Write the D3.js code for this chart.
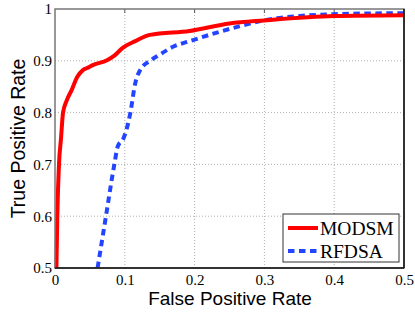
<!DOCTYPE html>
<html>
<head>
<meta charset="utf-8">
<script src="https://cdn.jsdelivr.net/npm/d3@7"></script>
<style>
  body { margin: 0; background: #fff; }
  svg { display: block; }
</style>
</head>
<body>
<svg width="415" height="313"></svg>
<script>
// ROC points: [false positive rate, true positive rate]
const modsm = [
  [0.002, 0.5], [0.0033, 0.6], [0.0057, 0.7], [0.0086, 0.75], [0.0115, 0.8],
  [0.017, 0.824], [0.024, 0.844], [0.032, 0.869], [0.04, 0.882], [0.046, 0.886],
  [0.055, 0.892], [0.0745, 0.901], [0.085, 0.91], [0.097, 0.925], [0.115, 0.938],
  [0.136, 0.95], [0.193, 0.9575], [0.25, 0.972], [0.3, 0.978], [0.4, 0.9865], [0.5, 0.988]
]
const rfdsa = [
  [0.061, 0.5], [0.073, 0.6], [0.085, 0.7], [0.09, 0.735], [0.098, 0.75],
  [0.103, 0.77], [0.108, 0.8], [0.115, 0.857], [0.122, 0.882], [0.136, 0.9],
  [0.15, 0.912], [0.169, 0.927], [0.193, 0.938], [0.236, 0.956], [0.265, 0.967],
  [0.303, 0.979], [0.351, 0.9865], [0.398, 0.99], [0.5, 0.992]
]
const xTicks = [0, 0.1, 0.2, 0.3, 0.4, 0.5]
const yTicks = [0.5, 0.6, 0.7, 0.8, 0.9, 1]
const seriesNames = ['MODSM', 'RFDSA']

const svg = d3.select('svg')
const pLeft = 55, pRight = 404, pTop = 9, pBottom = 268

const x = d3.scaleLinear().domain([0, 0.5]).range([pLeft, pRight])
const y = d3.scaleLinear().domain([0.5, 1]).range([pBottom, pTop])

// grid
const grid = svg.append('g')
grid.selectAll('.gx')
  .data(xTicks.slice(1, -1))
  .enter()
  .append('line')
  .attr('x1', d => x(d)).attr('x2', d => x(d))
  .attr('y1', pTop).attr('y2', pBottom)
grid.selectAll('.gy')
  .data(yTicks.slice(1, -1))
  .enter()
  .append('line')
  .attr('x1', pLeft).attr('x2', pRight)
  .attr('y1', d => y(d)).attr('y2', d => y(d))
grid.selectAll('line')
  .attr('stroke', '#b0b0b0')
  .attr('stroke-width', 1)
  .attr('stroke-dasharray', '1,2')

// axes
const tickFont = (sel) => sel.selectAll('text')
  .attr('font-family', '"Liberation Serif", "DejaVu Serif", serif')
  .attr('font-size', 15)
  .attr('fill', '#000')

const xAxis = svg.append('g')
  .attr('transform', `translate(0,${pBottom})`)
  .call(d3.axisBottom(x).tickValues(xTicks).tickFormat(d3.format('')).tickSize(0).tickPadding(6))
xAxis.select('.domain').remove()
tickFont(xAxis)

const yAxis = svg.append('g')
  .attr('transform', `translate(${pLeft},0)`)
  .call(d3.axisLeft(y).tickValues(yTicks).tickFormat(d3.format('')).tickSize(0).tickPadding(3))
yAxis.select('.domain').remove()
tickFont(yAxis)

// small inner ticks like the original
svg.append('g').selectAll('line')
  .data(xTicks.slice(1, -1))
  .enter()
  .append('line')
  .attr('x1', d => x(d)).attr('x2', d => x(d))
  .attr('y1', pTop).attr('y2', pTop + 4)
  .attr('stroke', '#555')

// curves
const line = d3.line()
  .curve(d3.curveMonotoneX)
  .x(d => x(d[0]))
  .y(d => y(d[1]))

const plot = svg.append('g')
plot.append('path')
  .datum(rfdsa)
  .attr('d', line)
  .attr('fill', 'none')
  .attr('stroke', '#2445ff')
  .attr('stroke-width', 4)
  .attr('stroke-dasharray', '6.5,4.5')
plot.append('path')
  .datum(modsm)
  .attr('d', line)
  .attr('fill', 'none')
  .attr('stroke', '#ff0000')
  .attr('stroke-width', 4)
  .attr('stroke-linejoin', 'round')

// frame
svg.append('rect')
  .attr('x', pLeft).attr('y', pTop)
  .attr('width', pRight - pLeft).attr('height', pBottom - pTop)
  .attr('fill', 'none')
  .attr('stroke', '#777')
  .attr('stroke-width', 1.5)
svg.append('line')
  .attr('x1', pLeft).attr('x2', pRight).attr('y1', pBottom).attr('y2', pBottom)
  .attr('stroke', '#111').attr('stroke-width', 1.5)
svg.append('line')
  .attr('x1', pRight).attr('x2', pRight).attr('y1', pTop).attr('y2', pBottom)
  .attr('stroke', '#111').attr('stroke-width', 1.5)

// axis labels
svg.append('text')
  .attr('x', (pLeft + pRight) / 2 + 0.5)
  .attr('y', 305)
  .attr('text-anchor', 'middle')
  .attr('font-family', '"Liberation Sans", Arial, sans-serif')
  .attr('font-size', 19)
  .text('False Positive Rate')
svg.append('text')
  .attr('transform', `translate(25,${(pTop + pBottom) / 2}) rotate(-90)`)
  .attr('text-anchor', 'middle')
  .attr('font-family', '"Liberation Sans", Arial, sans-serif')
  .attr('font-size', 19.5)
  .text('True Positive Rate')

// legend
const legend = svg.append('g').attr('transform', 'translate(283,214)')
legend.append('rect')
  .attr('width', 116).attr('height', 48)
  .attr('fill', '#fff')
  .attr('stroke', '#333')
  .attr('stroke-width', 1)
const styles = [
  { color: '#ff0000', dash: null },
  { color: '#2445ff', dash: '6.5,4.5' }
]
const items = legend.selectAll('.item')
  .data(seriesNames)
  .enter()
  .append('g')
  .attr('transform', (d, i) => `translate(0,${14 + i * 23})`)
items.append('line')
  .attr('x1', 5).attr('x2', 35)
  .attr('stroke', (d, i) => styles[i].color)
  .attr('stroke-width', 4)
  .attr('stroke-dasharray', (d, i) => styles[i].dash)
items.append('text')
  .attr('x', 37)
  .attr('dy', '0.35em')
  .attr('font-family', '"Liberation Serif", "DejaVu Serif", serif')
  .attr('font-size', 19.5)
  .text(d => d)
</script>
</body>
</html>
